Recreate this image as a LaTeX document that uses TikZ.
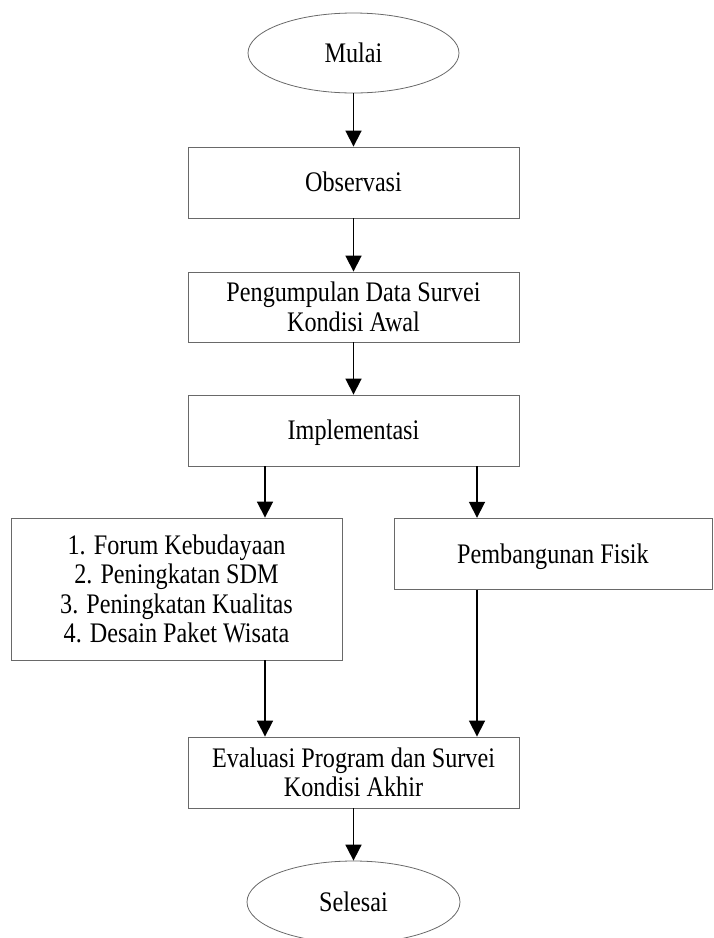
\documentclass[tikz,border=0pt]{standalone}
\usepackage{fontspec}
\setmainfont{Liberation Serif}
\usetikzlibrary{shapes.geometric,arrows.meta}
\definecolor{boxline}{RGB}{105,105,105}
\newcommand{\tallt}[1]{\scalebox{1}[1.17]{\raisebox{-3pt}[\height][\depth]{\begin{tabular}{@{}c@{}}#1\end{tabular}}}}
\begin{document}
\begin{tikzpicture}[x=1pt,y=-1pt,
  every node/.style={font=\fontsize{24.2}{25.2}\selectfont, align=center, inner sep=0pt},
  procbox/.style={draw=boxline, line width=0.9pt, rectangle, minimum width=331pt, minimum height=71pt},
  termbox/.style={draw=boxline, line width=0.8pt, ellipse, minimum width=211pt, minimum height=80pt},
  arr/.style={draw=black, line width=1.8pt, -{Triangle[width=16pt,length=16pt]}}]
\useasboundingbox (0,0) rectangle (713,938);
\node[termbox] (mulai) at (353.5,53) {\tallt{Mulai}};
\node[procbox] (obs) at (353.5,182.5) {\tallt{Observasi}};
\node[procbox, minimum height=70pt] (peng) at (353.5,307) {\tallt{Pengumpulan Data Survei\\Kondisi Awal}};
\node[procbox] (impl) at (353.5,430.5) {\tallt{Implementasi}};
\node[procbox, minimum height=142pt] (left) at (176.5,589) {\tallt{1. Forum Kebudayaan\\2. Peningkatan SDM\\3. Peningkatan Kualitas\\4. Desain Paket Wisata}};
\node[procbox, minimum width=318pt] (right) at (553,553.75) {\tallt{Pembangunan Fisik}};
\node[procbox] (eval) at (353.5,772.5) {\tallt{Evaluasi Program dan Survei\\Kondisi Akhir}};
\node[termbox, minimum width=213pt, minimum height=82pt] (selesai) at (353.5,902) {\tallt{Selesai}};

\draw[arr] (mulai.south) -- (obs.north);
\draw[arr] (obs.south) -- (peng.north);
\draw[arr] (peng.south) -- (impl.north);
\draw[arr] ([xshift=-88.5pt]impl.south) -- ([xshift=-88.5pt]impl.south |- left.north);
\draw[arr] ([xshift=123.5pt]impl.south) -- ([xshift=123.5pt]impl.south |- right.north);
\draw[arr] ([xshift=-88.5pt]eval.north |- left.south) -- ([xshift=-88.5pt]eval.north);
\draw[arr] ([xshift=123.5pt]eval.north |- right.south) -- ([xshift=123.5pt]eval.north);
\draw[arr] (eval.south) -- (selesai.north);
\end{tikzpicture}
\end{document}
